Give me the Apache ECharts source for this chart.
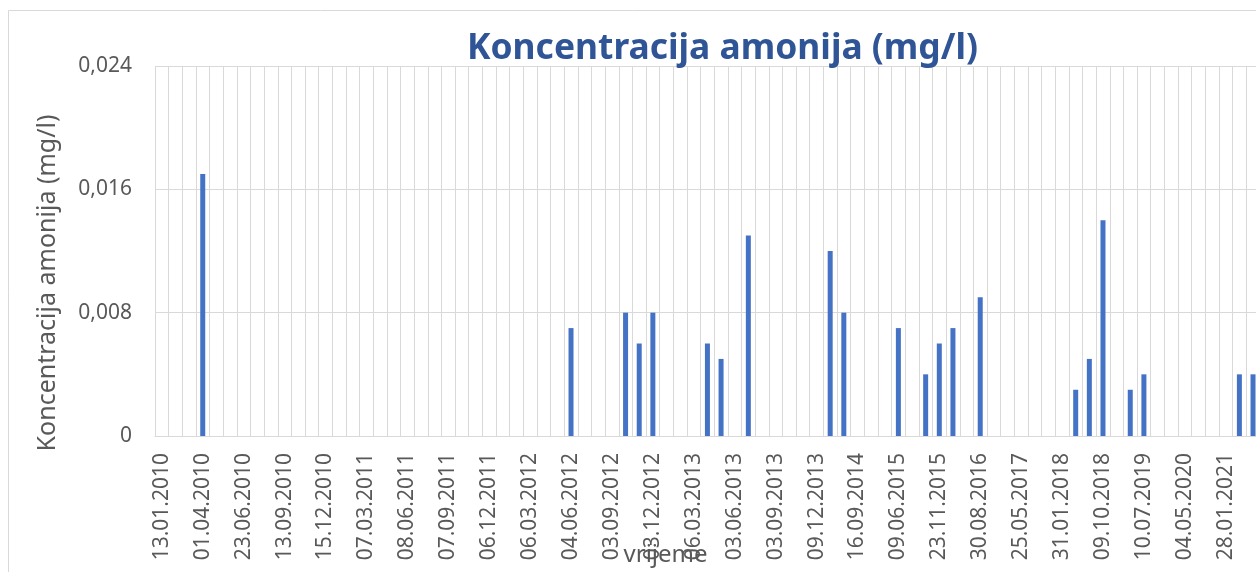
<!DOCTYPE html>
<html>
<head>
<meta charset="utf-8">
<script src="https://cdn.jsdelivr.net/npm/echarts@6/dist/echarts.min.js"></script>
<style>
html, body { margin: 0; padding: 0; background: #fff; }
#picture { width: 1256px; height: 572px; }
</style>
</head>
<body>
<div id="picture"></div>
<script>
// datumi uzorkovanja (prikazuje se svaki treci)
var dates = [
    '13.01.2010','10.02.2010','10.03.2010','01.04.2010','05.05.2010','26.05.2010',
    '23.06.2010','21.07.2010','18.08.2010','13.09.2010','13.10.2010','17.11.2010',
    '15.12.2010','12.01.2011','09.02.2011','07.03.2011','06.04.2011','11.05.2011',
    '08.06.2011','06.07.2011','10.08.2011','07.09.2011','05.10.2011','09.11.2011',
    '06.12.2011','11.01.2012','08.02.2012','06.03.2012','04.04.2012','09.05.2012',
    '04.06.2012','04.07.2012','06.08.2012','03.09.2012','03.10.2012','05.11.2012',
    '03.12.2012','09.01.2013','06.02.2013','06.03.2013','03.04.2013','06.05.2013',
    '03.06.2013','03.07.2013','05.08.2013','03.09.2013','02.10.2013','06.11.2013',
    '09.12.2013','12.03.2014','11.06.2014','16.09.2014','10.12.2014','11.03.2015',
    '09.06.2015','09.09.2015','14.10.2015','23.11.2015','16.02.2016','24.05.2016',
    '30.08.2016','29.11.2016','28.02.2017','25.05.2017','29.08.2017','28.11.2017',
    '31.01.2018','18.04.2018','11.07.2018','09.10.2018','23.01.2019','10.04.2019',
    '10.07.2019','16.10.2019','29.01.2020','04.05.2020','05.08.2020','04.11.2020',
    '28.01.2021','21.04.2021','14.07.2021','13.10.2021','19.01.2022'
];

// koncentracija amonija (mg/l), null = nema vrijednosti
var amonij = [
    null, null, null, 0.017, null, null, null, null, null, null,
    null, null, null, null, null, null, null, null, null, null,
    null, null, null, null, null, null, null, null, null, null,
    0.007, null, null, null, 0.008, 0.006, 0.008, null, null, null,
    0.006, 0.005, null, 0.013, null, null, null, null, null, 0.012,
    0.008, null, null, null, 0.007, null, 0.004, 0.006, 0.007, null,
    0.009, null, null, null, null, null, null, 0.003, 0.005, 0.014,
    null, 0.003, 0.004, null, null, null, null, null, null, 0.004,
    0.004, null, null
];

var yTicks = [0, 0.008, 0.016, 0.024];

var myChart = echarts.init(document.getElementById('picture'));
var option = {
    backgroundColor: '#ffffff',
    animation: false,
    textStyle: { fontFamily: 'Noto Sans' },
    title: {
        text: 'Koncentracija amonija (mg/l)',
        left: 467,
        top: 31,
        padding: 0,
        textStyle: {
            color: '#2F5597',
            fontSize: 35.4,
            fontWeight: 'bold',
            fontFamily: 'Noto Sans'
        }
    },
    graphic: [{
        type: 'rect',
        shape: { x: 8.5, y: 10.5, width: 1400, height: 700 },
        style: { fill: 'none', stroke: '#d9d9d9', lineWidth: 1 },
        silent: true
    }],
    grid: {
        left: 155,
        top: 66,
        height: 370,
        width: dates.length * 13.64,
        outerBoundsMode: 'none',
        containLabel: false
    },
    xAxis: {
        type: 'category',
        data: dates,
        name: 'vrijeme',
        nameLocation: 'middle',
        nameGap: 107,
        nameMoveOverlap: false,
        nameTextStyle: {
            color: '#595959',
            fontSize: 24,
            padding: [0, 111, 0, 0]
        },
        axisLine: { lineStyle: { color: '#d9d9d9', width: 1 } },
        axisTick: { show: false },
        axisLabel: {
            interval: 2,
            rotate: 90,
            margin: 17,
            color: '#595959',
            fontSize: 21
        },
        splitLine: {
            show: true,
            interval: 0,
            lineStyle: { color: '#d9d9d9', width: 1 }
        }
    },
    yAxis: {
        type: 'value',
        min: yTicks[0],
        max: yTicks[yTicks.length - 1],
        interval: yTicks[1] - yTicks[0],
        name: 'Koncentracija amonija (mg/l)',
        nameLocation: 'middle',
        nameGap: 95,
        nameMoveOverlap: false,
        nameTextStyle: {
            color: '#595959',
            fontSize: 25,
            padding: [0, 64, 0, 0]
        },
        axisLine: { show: false },
        axisTick: { show: false },
        axisLabel: {
            margin: 23,
            color: '#595959',
            fontSize: 21,
            formatter: function (v) {
                return v === 0 ? '0' : v.toFixed(3).replace('.', ',');
            }
        },
        splitLine: { lineStyle: { color: '#d9d9d9', width: 1 } }
    },
    series: [{
        name: 'amonij',
        type: 'bar',
        data: amonij,
        barWidth: 5,
        itemStyle: { color: '#4472C4' }
    }]
};
myChart.setOption(option);
</script>
</body>
</html>
